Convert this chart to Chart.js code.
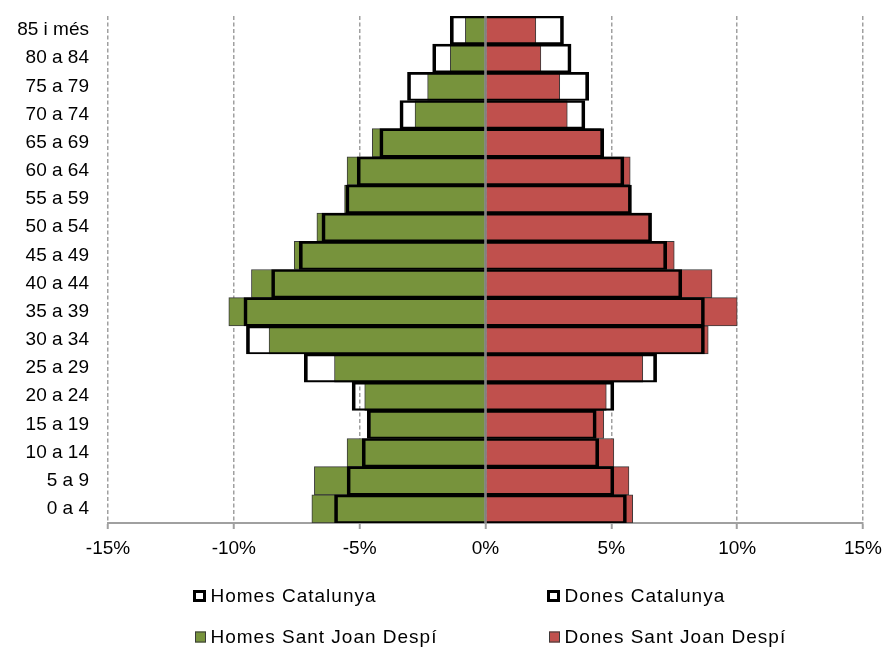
<!DOCTYPE html>
<html>
<head>
<meta charset="utf-8">
<script src="https://cdn.jsdelivr.net/npm/chart.js@4/dist/chart.umd.min.js"></script>
<style>
  html, body { margin: 0; padding: 0; background: #fff; }
  canvas { display: block; }
</style>
</head>
<body>
<canvas id="pyramid" width="885" height="648"></canvas>
<script>
// Age groups, oldest at the top
const ageGroups = ['85 i més', '80 a 84', '75 a 79', '70 a 74', '65 a 69', '60 a 64', '55 a 59', '50 a 54',
  '45 a 49', '40 a 44', '35 a 39', '30 a 34', '25 a 29', '20 a 24', '15 a 19', '10 a 14', '5 a 9', '0 a 4'];

// Share of total population (%) — men on the negative side
const homesCatalunya = [-1.4, -2.1, -3.1, -3.4, -4.2, -5.1, -5.55, -6.5, -7.4, -8.5, -9.6, -9.5, -7.2, -5.3, -4.7, -4.9, -5.5, -6.0];
const donesCatalunya = [3.1, 3.4, 4.1, 3.95, 4.7, 5.5, 5.8, 6.6, 7.2, 7.8, 8.7, 8.7, 6.8, 5.1, 4.4, 4.5, 5.1, 5.6];
const homesSantJoan = [-0.8, -1.4, -2.3, -2.8, -4.5, -5.5, -5.6, -6.7, -7.6, -9.3, -10.2, -8.6, -6.0, -4.8, -4.6, -5.5, -6.8, -6.9];
const donesSantJoan = [2.0, 2.2, 2.95, 3.25, 4.6, 5.75, 5.7, 6.55, 7.5, 9.0, 10.0, 8.85, 6.25, 4.8, 4.7, 5.1, 5.7, 5.85];

const seriesNames = ['Homes Catalunya', 'Dones Catalunya', 'Homes Sant Joan Despí', 'Dones Sant Joan Despí'];
const xTickValues = [-15, -10, -5, 0, 5, 10, 15];

const FONT = '"Liberation Sans", Arial, sans-serif';
const GREEN = '#77933C';
const RED = '#C0504D';

// Catalunya outlines are drawn on top of the filled Sant Joan bars (lower index = drawn last)
const outline = {
  backgroundColor: 'rgba(0,0,0,0)',
  borderColor: '#000',
  borderWidth: { top: 2, bottom: 1.5, left: 3, right: 3 },
  outline: true
};
const filled = (color) => ({
  backgroundColor: color,
  borderColor: '#3a3a3a',
  borderWidth: 1,
  outline: false
});

// Vertical zero line on top of the bars
const zeroLine = {
  id: 'zeroLine',
  afterDatasetsDraw(chart) {
    const { ctx, chartArea, scales } = chart;
    const x = scales.x.getPixelForValue(0);
    ctx.save();
    ctx.strokeStyle = '#808080';
    ctx.lineWidth = 2.5;
    ctx.beginPath();
    ctx.moveTo(x, chartArea.top);
    ctx.lineTo(x, chartArea.bottom);
    ctx.stroke();
    ctx.restore();
  }
};

// Two-column legend below the axis
const gridLegend = {
  id: 'gridLegend',
  afterDraw(chart) {
    const ctx = chart.ctx;
    const cols = [193, 547];
    const rows = [597, 638];
    chart.data.datasets.forEach((ds, i) => {
      const x = cols[i % 2];
      const y = rows[Math.floor(i / 2)];
      ctx.save();
      if (ds.outline) {
        ctx.fillStyle = '#fff';
        ctx.fillRect(x + 1.5, y - 5.5, 10, 9);
        ctx.lineWidth = 3;
        ctx.strokeStyle = '#000';
        ctx.strokeRect(x + 1.5, y - 5.5, 10, 9);
      } else {
        ctx.fillStyle = ds.backgroundColor;
        ctx.fillRect(x + 2, y - 6.5, 11, 11);
        ctx.lineWidth = 1;
        ctx.strokeStyle = '#3a3a3a';
        ctx.strokeRect(x + 2.5, y - 6, 10, 10);
      }
      ctx.font = '19px ' + FONT;
      ctx.letterSpacing = '1px';
      ctx.fillStyle = '#000';
      ctx.textAlign = 'left';
      ctx.textBaseline = 'middle';
      ctx.fillText(ds.label, x + 17.5, y);
      ctx.restore();
    });
  }
};

new Chart(document.getElementById('pyramid'), {
  type: 'bar',
  data: {
    labels: ageGroups,
    datasets: [
      { label: seriesNames[0], data: homesCatalunya, ...outline },
      { label: seriesNames[1], data: donesCatalunya, ...outline },
      { label: seriesNames[2], data: homesSantJoan, ...filled(GREEN) },
      { label: seriesNames[3], data: donesSantJoan, ...filled(RED) }
    ]
  },
  options: {
    indexAxis: 'y',
    responsive: false,
    animation: false,
    devicePixelRatio: 1,
    categoryPercentage: 1,
    barPercentage: 1,
    layout: { padding: { top: 16, right: 22, bottom: 85, left: 0 } },
    plugins: {
      legend: { display: false },
      tooltip: { enabled: false }
    },
    scales: {
      x: {
        min: -15,
        max: 15,
        stacked: false,
        afterBuildTicks(scale) {
          scale.ticks = xTickValues.map(v => ({ value: v }));
        },
        afterFit(scale) {
          scale.height = 40;
          scale.paddingLeft = 0;
          scale.paddingRight = 0;
        },
        ticks: {
          padding: 8,
          color: '#000',
          font: { family: FONT, size: 19 },
          callback: (v) => v + '%'
        },
        grid: {
          color: '#a0a0a0',
          lineWidth: 1.5,
          drawTicks: true,
          tickLength: 6,
          tickColor: '#a0a0a0',
          tickWidth: 2,
          tickBorderDash: []
        },
        border: { display: true, color: '#a0a0a0', width: 2, dash: [4, 2.5] }
      },
      y: {
        stacked: true,
        afterFit(scale) {
          scale.width = 108;
          scale.paddingTop = 0;
          scale.paddingBottom = 0;
        },
        ticks: {
          padding: 19,
          color: '#000',
          font: { family: FONT, size: 19 },
          autoSkip: false
        },
        grid: { display: false, drawTicks: false },
        border: { display: false }
      }
    }
  },
  plugins: [zeroLine, gridLegend]
});
</script>
</body>
</html>
